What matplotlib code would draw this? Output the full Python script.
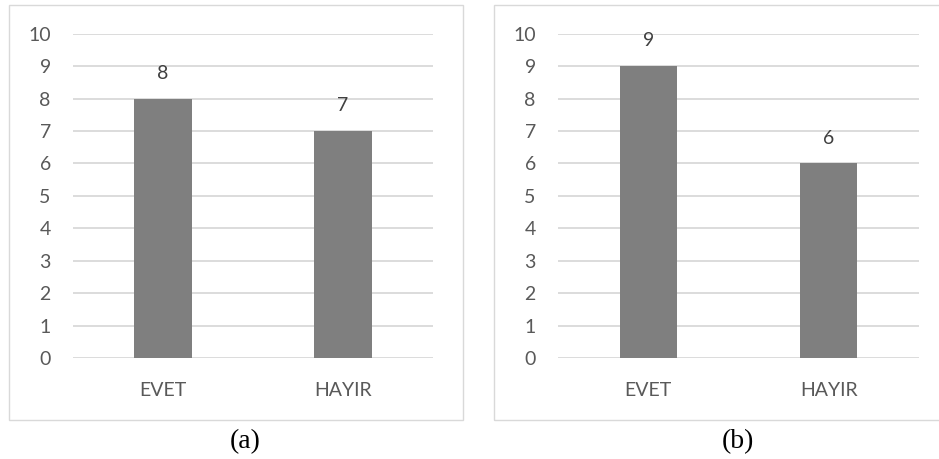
import matplotlib.pyplot as plt
from matplotlib.patches import Rectangle

categories = ["EVET", "HAYIR"]
values_a = [8, 7]
values_b = [9, 6]
captions = ["(a)", "(b)"]
yticks = list(range(0, 11))

W, H = 939, 459
bar_color = "#7f7f7f"
grid_color = "#d9d9d9"
text_color = "#595959"

plt.rcParams["font.family"] = ["Lato", "DejaVu Sans"]

fig = plt.figure(figsize=(W / 100, H / 100), dpi=100)


def px_axes(x0, y0, x1, y1):
    # pixel box (top-left origin) -> figure fraction
    return fig.add_axes([x0 / W, 1 - y1 / H, (x1 - x0) / W, (y1 - y0) / H])


panels = [
    # border box, plot box, caption position
    ((8.5, 4.5, 463, 420), (73, 33.7, 433, 358), (245, 442), values_a, captions[0]),
    ((494, 4.5, 945, 420), (558, 33.7, 919, 358), (738, 442), values_b, captions[1]),
]

for border, box, cap, vals, label in panels:
    bx0, by0, bx1, by1 = border
    fig.patches.append(Rectangle((bx0 / W, 1 - by1 / H), (bx1 - bx0) / W, (by1 - by0) / H,
                                 transform=fig.transFigure, fill=False,
                                 edgecolor=grid_color, linewidth=1.0))

    ax = px_axes(*box)
    ax.bar(range(len(categories)), vals, width=0.317, color=bar_color, zorder=2)
    ax.set_xlim(-0.5, len(categories) - 0.5)
    ax.set_ylim(0, 10)
    ax.set_yticks(yticks)
    ax.set_xticks(range(len(categories)))
    ax.set_xticklabels(categories)
    for s in ax.spines.values():
        s.set_visible(False)
    ax.yaxis.grid(True, color=grid_color, linewidth=1.3, zorder=0)
    ax.set_axisbelow(True)
    ax.tick_params(axis="both", length=0, labelsize=14, colors=text_color)
    ax.tick_params(axis="y", pad=16)
    ax.tick_params(axis="x", pad=17)
    ax.set_facecolor("none")
    for i, v in enumerate(vals):
        ax.annotate(str(v), (i, v), xytext=(0, 12), textcoords="offset points",
                    ha="center", va="bottom", fontsize=14, color="#404040")

    fig.text(cap[0] / W, 1 - cap[1] / H, label, ha="center", va="center",
             fontsize=20, family="Liberation Serif", color="black")

fig.savefig("out.png", dpi=100)
